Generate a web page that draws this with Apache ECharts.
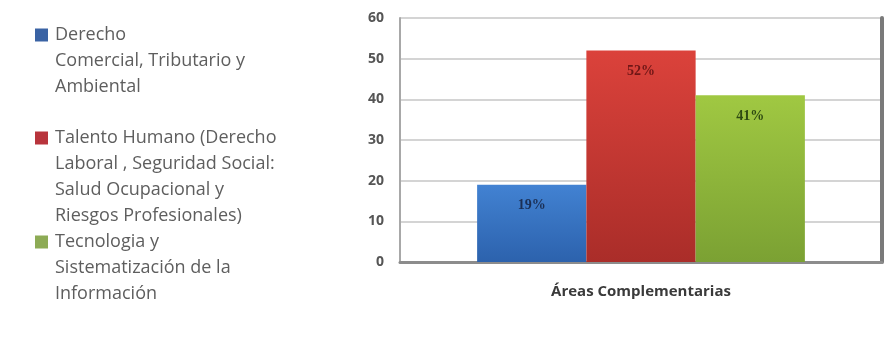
<!DOCTYPE html>
<html>
<head>
<meta charset="utf-8">
<script src="https://cdn.jsdelivr.net/npm/echarts@6/dist/echarts.min.js"></script>
<style>
html,body{margin:0;padding:0;background:#fff;}
#c{width:887px;height:339px;}
</style>
</head>
<body>
<div id="c"></div>
<script>
const categories = ['Áreas Complementarias'];
const seriesNames = [
  'Derecho Comercial, Tributario y Ambiental',
  'Talento Humano (Derecho Laboral , Seguridad Social: Salud Ocupacional y Riesgos Profesionales)',
  'Tecnologia y Sistematización de la Información'
];
const legendLines = [
  ['Derecho', 'Comercial, Tributario y', 'Ambiental'],
  ['Talento Humano (Derecho', 'Laboral , Seguridad Social:', 'Salud Ocupacional y', 'Riesgos Profesionales)'],
  ['Tecnologia y', 'Sistematización de la', 'Información']
];
const values = [[19], [52], [41]];
const valueLabels = ['19%', '52%', '41%'];
const yTicks = [0, 10, 20, 30, 40, 50, 60];

const topColors = ['#4282d2', '#db423b', '#a0c842'];
const bottomColors = ['#2c62ad', '#aa2d29', '#7ba133'];
const legendColors = ['#3a63a4', '#b8343c', '#8dab55'];
const labelColors = ['#1b2f55', '#6e1616', '#2e4a12'];

const chart = echarts.init(document.getElementById('c'));

const legendTops = [17, 120, 224];
const legends = seriesNames.map((n, i) => ({
  data: [n],
  left: 25,
  top: legendTops[i],
  orient: 'vertical',
  selectedMode: false,
  itemWidth: 0,
  itemHeight: 0,
  itemGap: 0,
  formatter: function () {
    return legendLines[i].map((l, k) => (k === 0 ? '{sq|}{gap|}' : '{ind|}') + '{t|' + l + '}').join('\n');
  },
  textStyle: {
    fontFamily: 'Open Sans',
    fontSize: 18,
    color: '#5e5e5e',
    lineHeight: 26,
    rich: {
      sq: { width: 13, height: 13, backgroundColor: legendColors[i] },
      gap: { width: 7 },
      ind: { width: 20 },
      t: { fontFamily: 'Open Sans', fontSize: 18, color: '#5e5e5e', lineHeight: 26 }
    }
  }
}));

chart.setOption({
  animation: false,
  backgroundColor: '#ffffff',
  legend: legends,
  grid: { left: 400, right: 5, top: 18, bottom: 77, containLabel: false },
  xAxis: {
    type: 'category',
    data: categories,
    axisLine: { show: true, lineStyle: { color: '#8c8c8c', width: 3 } },
    axisTick: { show: false },
    axisLabel: { margin: 22, fontFamily: 'Open Sans', fontSize: 15, color: '#3a3a3a', fontWeight: 'bold' }
  },
  yAxis: [{
    type: 'value',
    min: 0, max: 60, interval: 10,
    axisLine: { show: true, lineStyle: { color: '#a8a8a8', width: 2 } },
    axisTick: { show: false },
    axisLabel: { margin: 16, fontFamily: 'Open Sans', fontSize: 14, fontWeight: 'bold', color: '#555',
      formatter: v => (yTicks.indexOf(v) >= 0 ? String(v) : '') },
    splitLine: { show: true, lineStyle: { color: '#d4d4d4', width: 2 } }
  }, {
    type: 'value',
    position: 'right',
    min: 0, max: 60, interval: 10,
    axisLine: { show: true, lineStyle: { color: '#7a7a7a', width: 4 } },
    axisTick: { show: false },
    axisLabel: { show: false },
    splitLine: { show: false }
  }],
  series: seriesNames.map((n, i) => ({
    name: n,
    type: 'bar',
    data: values[i],
    barGap: '0%',
    barCategoryGap: '32%',
    itemStyle: {
      color: new echarts.graphic.LinearGradient(0, 0, 0, 1, [
        { offset: 0, color: topColors[i] },
        { offset: 1, color: bottomColors[i] }
      ])
    },
    label: {
      show: true,
      position: 'insideTop',
      distance: 14,
      formatter: () => valueLabels[i],
      fontFamily: 'Liberation Serif',
      fontWeight: 'bold',
      fontSize: 14,
      color: labelColors[i]
    }
  }))
});
</script>
</body>
</html>
